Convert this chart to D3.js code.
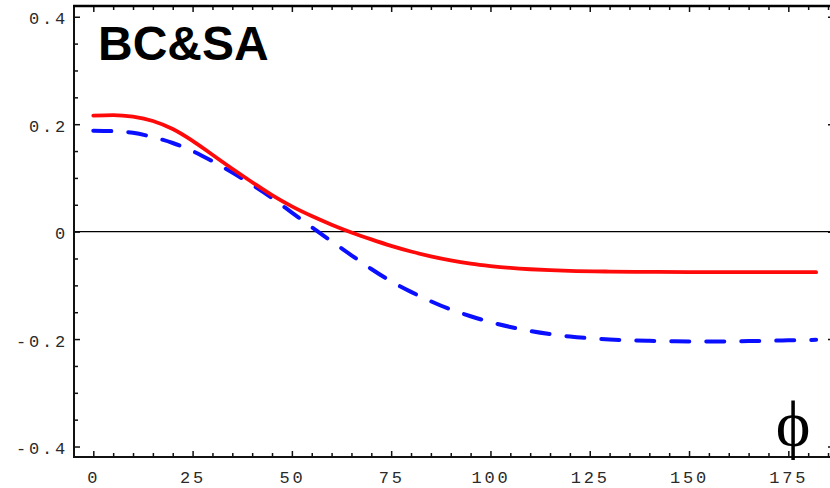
<!DOCTYPE html>
<html>
<head>
<meta charset="utf-8">
<script src="https://cdn.jsdelivr.net/npm/d3@7"></script>
<style>
  html, body { margin: 0; padding: 0; background: #fff; }
  svg { display: block; }
  .lbl text { font-family: "Liberation Mono", "DejaVu Sans Mono", monospace; font-size: 17px; letter-spacing: 2.8px; fill: #2a2a2a; }
  .tk line { stroke: #111; stroke-width: 1.5; }
  .tk path { display: none; }
</style>
</head>
<body>
<svg id="chart" width="830" height="488"></svg>
<script>
// phi in degrees, asymmetry values for the two calculations
const phiRed = [0,5,10,15,20,25,30,35,40,45,50,55,60,65,70,75,80,85,90,95,100,105,110,115,120,130,140,150,160,170,182];
const valRed = [0.216,0.217,0.214,0.206,0.191,0.169,0.143,0.117,0.092,0.068,0.047,0.029,0.013,-0.0015,-0.0145,-0.0265,-0.037,-0.046,-0.0535,-0.0595,-0.064,-0.0675,-0.070,-0.0718,-0.073,-0.0743,-0.075,-0.0753,-0.0754,-0.0754,-0.0754];

const phiBlue = [0,5,10,15,20,25,30,35,40,45,50,55,60,65,70,75,80,85,90,95,100,105,110,115,120,125,130,135,140,145,150,155,160,165,170,175,182];
const valBlue = [0.188,0.187,0.184,0.176,0.165,0.150,0.131,0.110,0.087,0.0625,0.0355,0.0085,-0.018,-0.044,-0.0696,-0.0926,-0.1121,-0.1296,-0.145,-0.1575,-0.1685,-0.1775,-0.185,-0.1908,-0.1953,-0.1985,-0.2007,-0.2022,-0.2033,-0.204,-0.2044,-0.2045,-0.2042,-0.2037,-0.2031,-0.2024,-0.2014];

const xMajor = [0,25,50,75,100,125,150,175];
const yMajor = [-0.4,-0.2,0,0.2,0.4];

const title = "BC&SA";
const xLabel = "ϕ";

const fLeft = 74, fRight = 833, fTop = 6, fBottom = 457;

const x = d3.scaleLinear().domain([-4.86, 186.25]).range([fLeft, fRight]);
const y = d3.scaleLinear().domain([-0.4195, 0.42]).range([fBottom, fTop]);

const xMinor = d3.range(0, 186, 5).filter(v => v % 25 !== 0);
const yMinor = [-0.35,-0.3,-0.25,-0.15,-0.1,-0.05,0.05,0.1,0.15,0.25,0.3,0.35];

const svg = d3.select("#chart");

// zero reference line
svg.append("line")
  .attr("x1", fLeft).attr("x2", 830)
  .attr("y1", y(0)).attr("y2", y(0))
  .attr("stroke", "#000").attr("stroke-width", 1.2);

// curves
const line = d3.line().x(d => x(d[0])).y(d => y(d[1])).curve(d3.curveMonotoneX);

svg.append("path")
  .datum(phiBlue.map((p, i) => [p, valBlue[i]]))
  .attr("d", line)
  .attr("fill", "none")
  .attr("stroke", "#0a10ff")
  .attr("stroke-width", 4)
  .attr("stroke-linecap", "round")
  .attr("stroke-dasharray", "18 17");

svg.append("path")
  .datum(phiRed.map((p, i) => [p, valRed[i]]))
  .attr("d", line)
  .attr("fill", "none")
  .attr("stroke", "#ff0a0a")
  .attr("stroke-width", 3.8)
  .attr("stroke-linecap", "round");

// ticks: bottom and top
svg.append("g").attr("class", "tk lbl").attr("transform", `translate(0,${fBottom})`)
  .call(d3.axisBottom(x).tickValues(xMajor).tickSize(-6).tickPadding(13.5).tickFormat(d => String(d)));
svg.append("g").attr("class", "tk").attr("transform", `translate(0,${fBottom})`)
  .call(d3.axisBottom(x).tickValues(xMinor).tickSize(-4).tickFormat(""));
svg.append("g").attr("class", "tk").attr("transform", `translate(0,${fTop})`)
  .call(d3.axisTop(x).tickValues(xMajor).tickSize(-6).tickFormat(""));
svg.append("g").attr("class", "tk").attr("transform", `translate(0,${fTop})`)
  .call(d3.axisTop(x).tickValues(xMinor).tickSize(-4).tickFormat(""));

// ticks: left and right
const yl = svg.append("g").attr("class", "tk lbl").attr("transform", `translate(${fLeft},0)`)
  .call(d3.axisLeft(y).tickValues(yMajor).tickSize(-6).tickPadding(6).tickFormat(d => String(d)));
yl.selectAll("text").attr("dy", "0.42em");
svg.append("g").attr("class", "tk").attr("transform", `translate(${fLeft},0)`)
  .call(d3.axisLeft(y).tickValues(yMinor).tickSize(-4).tickFormat(""));
svg.append("g").attr("class", "tk").attr("transform", `translate(${fRight},0)`)
  .call(d3.axisRight(y).tickValues(yMajor).tickSize(-5).tickFormat(""));
svg.append("g").attr("class", "tk").attr("transform", `translate(${fRight},0)`)
  .call(d3.axisRight(y).tickValues(yMinor).tickSize(-3).tickFormat(""));

// frame
svg.append("line").attr("x1", fLeft).attr("x2", fLeft).attr("y1", fTop - 1).attr("y2", fBottom + 1)
  .attr("stroke", "#111").attr("stroke-width", 2);
svg.append("line").attr("x1", fLeft - 1).attr("x2", 830).attr("y1", fBottom).attr("y2", fBottom)
  .attr("stroke", "#111").attr("stroke-width", 2);
svg.append("line").attr("x1", fLeft - 1).attr("x2", 830).attr("y1", fTop).attr("y2", fTop)
  .attr("stroke", "#000").attr("stroke-width", 2.6);

// title and axis symbol
svg.append("text")
  .attr("x", 98).attr("y", 60)
  .attr("font-family", "'Liberation Sans', Arial, sans-serif")
  .attr("font-weight", "bold").attr("font-size", 48)
  .attr("fill", "#000")
  .text(title);

svg.append("text")
  .attr("x", 793).attr("y", 446)
  .attr("text-anchor", "middle")
  .attr("font-family", "'Liberation Serif', 'Times New Roman', serif")
  .attr("font-size", 66)
  .attr("fill", "#000")
  .text(xLabel);
</script>
</body>
</html>
